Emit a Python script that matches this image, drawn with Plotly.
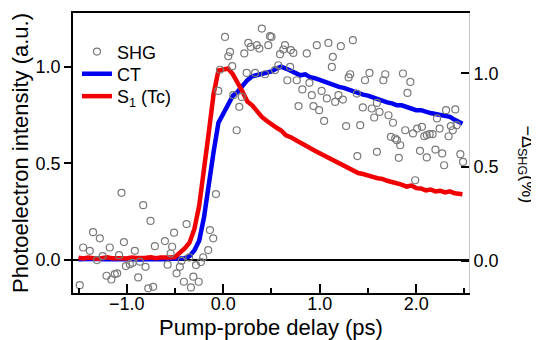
import plotly.graph_objects as go

# ---------------- data ----------------
delay = [
    -1.50, -1.45, -1.40, -1.35, -1.30, -1.25, -1.20, -1.15, -1.10, -1.05,
    -1.00, -0.95, -0.90, -0.85, -0.80, -0.75, -0.70, -0.65, -0.60, -0.55,
    -0.50, -0.45, -0.40, -0.35, -0.30, -0.25, -0.20, -0.15, -0.10, -0.05,
    0.00, 0.05, 0.10, 0.15, 0.20, 0.25, 0.30, 0.35, 0.40, 0.45,
    0.50, 0.55, 0.60, 0.65, 0.70, 0.75, 0.80, 0.85, 0.90, 0.95,
    1.00, 1.05, 1.10, 1.15, 1.20, 1.25, 1.30, 1.35, 1.40, 1.45,
    1.50, 1.55, 1.60, 1.65, 1.70, 1.75, 1.80, 1.85, 1.90, 1.95,
    2.00, 2.05, 2.10, 2.15, 2.20, 2.25, 2.30, 2.35, 2.40, 2.45, 2.48,
]

ct = [
    0.004, 0.006, 0.003, 0.005, 0.007, 0.004, 0.006, 0.003, 0.005, 0.006,
    0.004, 0.007, 0.005, 0.003, 0.006, 0.005, 0.004, 0.006, 0.005, 0.007,
    0.006, 0.008, 0.010, 0.020, 0.050, 0.100, 0.220, 0.400, 0.560, 0.710,
    0.760, 0.800, 0.850, 0.870, 0.900, 0.930, 0.950, 0.955, 0.960, 0.965,
    0.975, 0.990, 1.000, 0.990, 0.980, 0.965, 0.955, 0.960, 0.945, 0.940,
    0.930, 0.925, 0.910, 0.905, 0.895, 0.890, 0.880, 0.870, 0.860, 0.855,
    0.850, 0.840, 0.830, 0.825, 0.815, 0.810, 0.800, 0.800, 0.790, 0.785,
    0.775, 0.775, 0.765, 0.760, 0.755, 0.750, 0.745, 0.740, 0.725, 0.715, 0.705,
]

s1 = [
    0.012, 0.008, 0.013, 0.010, 0.007, 0.011, 0.014, 0.009, 0.012, 0.010,
    0.008, 0.013, 0.011, 0.009, 0.012, 0.015, 0.010, 0.013, 0.011, 0.014,
    0.016, 0.035, 0.060, 0.090, 0.160, 0.280, 0.450, 0.660, 0.860, 0.980,
    0.985, 0.990, 0.960, 0.920, 0.870, 0.820, 0.800, 0.770, 0.740, 0.720,
    0.700, 0.685, 0.670, 0.645, 0.635, 0.620, 0.610, 0.590, 0.575, 0.565,
    0.552, 0.540, 0.525, 0.515, 0.500, 0.490, 0.475, 0.465, 0.450, 0.445,
    0.435, 0.430, 0.423, 0.420, 0.410, 0.405, 0.398, 0.390, 0.380, 0.385,
    0.372, 0.370, 0.360, 0.365, 0.355, 0.358, 0.350, 0.355, 0.345, 0.345, 0.340,
]

shg_delay = [
    -1.488, -1.453, -1.384, -1.350, -1.280, -1.310, -1.250, -1.210, -1.177, -1.160,
    -1.125, -1.100, -1.080, -1.055, -1.030, -1.010, -0.969, -0.940, -0.917, -0.882,
    -0.865, -0.830, -0.806, -0.778, -0.754, -0.727, -0.709, -0.605, -0.577, -0.546,
    -0.530, -0.510, -0.484, -0.450, -0.432, -0.408, -0.380, -0.353, -0.335, -0.310,
    -0.283, -0.255, -0.232, -0.208, -0.156, -0.138, -0.104, -0.076,
    -0.052, -0.034, 0.018, 0.052, 0.070, 0.093, 0.104, 0.139, 0.166, 0.191,
    0.218, 0.243, 0.260, 0.285, 0.330, 0.347, 0.374, 0.400, 0.433, 0.467,
    0.485, 0.500, 0.537, 0.571, 0.589, 0.623, 0.640, 0.665, 0.693, 0.700,
    0.727, 0.762, 0.780, 0.820, 0.866, 0.893, 0.918, 0.935, 0.970, 0.994,
    1.020, 1.046, 1.074, 1.090, 1.126, 1.136, 1.160, 1.194, 1.219, 1.240,
    1.274, 1.300, 1.316, 1.344, 1.385, 1.390, 1.420, 1.447, 1.470, 1.516,
    1.540, 1.565, 1.593, 1.593, 1.620, 1.660, 1.680, 1.713, 1.738, 1.760,
    1.783, 1.800, 1.820, 1.835, 1.863, 1.887, 1.910, 1.940, 1.967, 1.990,
    2.010, 2.040, 2.060, 2.084, 2.110, 2.110, 2.140, 2.170, 2.200, 2.216,
    2.243, 2.270, 2.290, 2.310, 2.336, 2.360, 2.380, 2.406, 2.420, 2.458, 2.486,
]

shg = [
    -0.130, 0.071, 0.053, 0.153, 0.120, 0.004, 0.025, -0.080, 0.071, -0.100,
    -0.071, -0.067, 0.030, 0.363, 0.100, -0.028, -0.018, -0.011, 0.053, -0.089,
    -0.005, 0.297, -0.032, -0.147, 0.213, -0.139, 0.078, 0.105, -0.021, 0.039,
    0.075, 0.150, -0.067, -0.032, 0.000, -0.112, 0.196, 0.018, -0.142, -0.085,
    -0.023, -0.112, -0.007, 0.018, 0.057, 0.164, 0.120, 0.356,
    0.907, 1.020, 1.195, 1.092, 1.115, 1.039, 0.884, 0.697, 0.822, 0.875,
    1.107, 1.003, 1.163, 1.142, 1.003, 1.151, 1.133, 1.240, 0.996, 1.151,
    1.199, 1.195, 1.018, 1.044, 1.103, 1.128, 1.151, 0.964, 1.035, 1.125,
    1.110, 0.964, 0.826, 0.915, 1.107, 0.950, 0.884, 0.826, 1.151, 0.804,
    0.907, 0.747, 0.867, 1.163, 1.035, 1.089, 0.848, 0.884, 1.146, 0.861,
    0.719, 0.979, 0.996, 1.178, 0.893, 0.559, 0.724, 0.819, 0.964, 1.003,
    0.813, 0.765, 0.843, 0.582, 0.795, 0.964, 0.996, 0.777, 0.662, 0.737,
    0.653, 0.644, 0.550, 0.617, 1.000, 0.697, 0.896, 0.955, 0.680, 0.430,
    0.706, 0.587, 0.715, 0.665, 0.671, 0.552, 0.676, 0.676, 0.594, 0.760,
    0.706, 0.573, 0.510, 0.804, 0.665, 0.719, 0.697, 0.808, 0.724, 0.569, 0.528,
]

x_ticks = [-1.0, 0.0, 1.0, 2.0]
y_ticks = [0.0, 0.5, 1.0]

FONT = "Liberation Sans, Arial, Helvetica, sans-serif"
BLUE = "#0000f0"
RED = "#f00000"
FS = 18

# the page body adds an 8 px offset; the figure is sized to fit the 539x340 view
fig = go.Figure()
fig.add_trace(go.Scatter(
    x=delay, y=ct, mode="lines", name="CT",
    line=dict(color=BLUE, width=4.5), legend="legend2",
))
fig.add_trace(go.Scatter(
    x=delay, y=s1, mode="lines", name="S<sub>1</sub> (Tc)",
    line=dict(color=RED, width=4.5), legend="legend3",
))
fig.add_trace(go.Scatter(
    x=shg_delay, y=shg, mode="markers", name="SHG", yaxis="y2",
    marker=dict(symbol="circle-open", size=7, color="#7a7a7a",
                line=dict(width=1.2, color="#7a7a7a")),
    legend="legend",
))

leg_common = dict(xanchor="left", yanchor="middle", x=0.01,
                  bgcolor="rgba(0,0,0,0)", font=dict(size=FS), itemwidth=30)

fig.update_layout(
    width=531, height=332,
    margin=dict(l=65, r=70, t=5, b=47),
    paper_bgcolor="white", plot_bgcolor="white",
    font=dict(family=FONT, size=FS, color="black"),
    showlegend=True,
    legend=dict(y=0.861, **leg_common),
    legend2=dict(y=0.782, **leg_common),
    legend3=dict(y=0.702, **leg_common),
    xaxis=dict(
        range=[-1.558, 2.548], tickvals=x_ticks, tickformat=".1f",
        ticks="inside", ticklen=9, tickwidth=1.5, tickcolor="black",
        ticklabelstandoff=-6,
        minor=dict(dtick=0.5, tick0=0, ticks="inside", ticklen=5,
                   tickwidth=1.5, tickcolor="black"),
        showline=True, linecolor="black", linewidth=1.5, mirror=True,
        showgrid=False, zeroline=False, automargin=False,
        title=dict(text="Pump-probe delay (ps)", standoff=6),
        tickfont=dict(size=FS),
    ),
    yaxis=dict(
        range=[-0.170, 1.277], tickvals=y_ticks, tickformat=".1f",
        ticks="outside", ticklen=7, tickwidth=1.5, tickcolor="black",
        showline=True, linecolor="black", linewidth=1.5,
        showgrid=False, zeroline=True, zerolinecolor="black", zerolinewidth=1.5,
        automargin=False,
        title=dict(text="Photoelectron intensity (a.u.)", standoff=6),
        tickfont=dict(size=FS),
    ),
    yaxis2=dict(
        overlaying="y", side="right",
        range=[-0.172, 1.323], tickvals=y_ticks, tickformat=".1f",
        ticks="inside", ticklen=8, tickwidth=1.5, tickcolor="black",
        showline=True, linecolor="#c8c8c8", linewidth=1,
        showgrid=False, zeroline=False, automargin=False,
        tickfont=dict(size=FS),
    ),
    annotations=[dict(
        text="−Δ<sub>SHG</sub>(%)", textangle=90,
        xref="paper", yref="paper", x=1.146, y=0.46,
        xanchor="center", yanchor="middle", showarrow=False,
        font=dict(size=FS, family=FONT),
    )],
)

fig.write_html("out.html")
